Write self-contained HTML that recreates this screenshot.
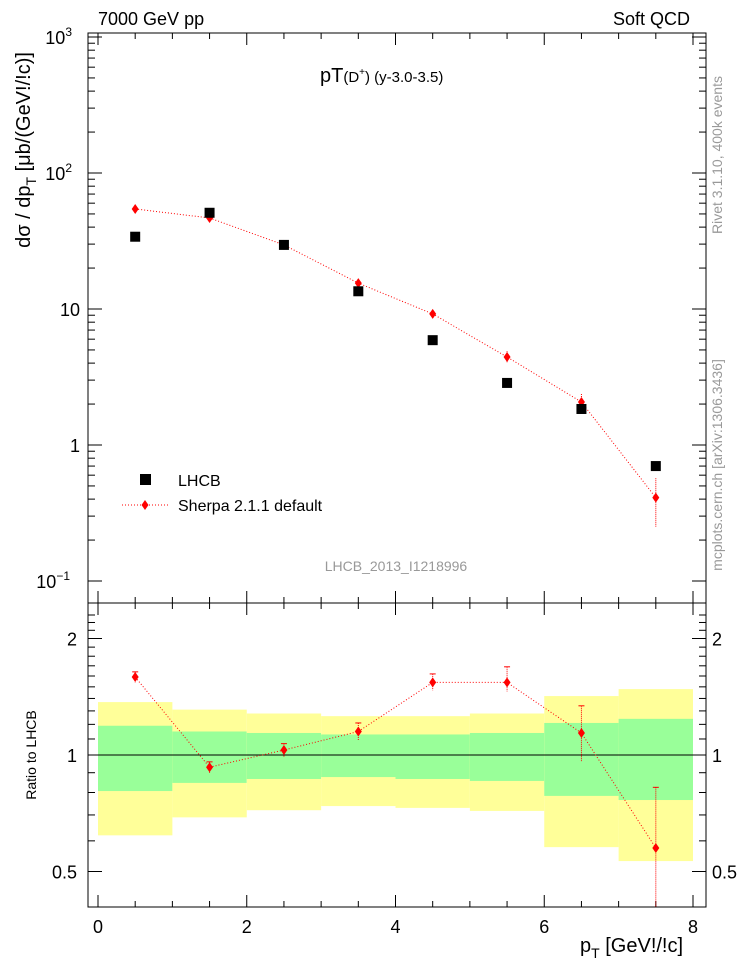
<!DOCTYPE html>
<html><head><meta charset="utf-8"><style>
body{margin:0;background:#fff;}
svg{display:block;font-family:"Liberation Sans",sans-serif;}
</style></head><body>
<svg id="c" width="746" height="972" xmlns="http://www.w3.org/2000/svg"></svg>
<script>
const binCenters=[0.5,1.5,2.5,3.5,4.5,5.5,6.5,7.5];
const binEdges=[0,1,2,3,4,5,6,7,8];
const lhcbVals=[34,51,29.6,13.5,5.9,2.86,1.84,0.70];
const sherpaVals=[54.4,46.7,29.6,15.5,9.2,4.44,2.07,0.41];
const sherpaErrLo=[2,2,1,0.6,0.4,0.4,0.25,0.16];
const sherpaErrHi=[2,2,1,0.6,0.4,0.45,0.3,0.16];
const ratioVals=[1.59,0.93,1.03,1.15,1.54,1.54,1.14,0.575];
const ratioErrLo=[0.05,0.03,0.04,0.06,0.07,0.08,0.18,0.25];
const ratioErrHi=[0.05,0.03,0.04,0.06,0.08,0.15,0.2,0.25];
const yellowHi=[1.37,1.31,1.28,1.26,1.26,1.28,1.42,1.48];
const yellowLo=[0.62,0.69,0.72,0.738,0.73,0.717,0.578,0.532];
const greenHi=[1.19,1.15,1.14,1.13,1.13,1.14,1.21,1.24];
const greenLo=[0.807,0.847,0.867,0.877,0.867,0.857,0.784,0.765];
const xTicks=[0,2,4,6,8];

const NS="http://www.w3.org/2000/svg";
const svg=document.getElementById('c');
const L=88,R=706,T=33,M=603,B=907;
const X=v=>98+(693-98)*v/8;
const Y=v=>445-136*Math.log10(v);
const YR=v=>755-387*Math.log10(v);
function el(tag,a,parent){const e=document.createElementNS(NS,tag);for(const k in a)e.setAttribute(k,a[k]);(parent||svg).appendChild(e);return e;}
function txt(x,y,s,size,anchor,name,extra){const t=el('text',Object.assign({x:x,y:y,'font-size':size,'text-anchor':anchor||'start'},extra||{}));t.textContent=s;return t;}

// ratio bands
for(let i=0;i<8;i++){
 let r=el('rect',{x:X(binEdges[i]),y:YR(yellowHi[i]),width:X(binEdges[i+1])-X(binEdges[i]),height:YR(yellowLo[i])-YR(yellowHi[i]),fill:'#ffff99'});
 
 
 let g=el('rect',{x:X(binEdges[i]),y:YR(greenHi[i]),width:X(binEdges[i+1])-X(binEdges[i]),height:YR(greenLo[i])-YR(greenHi[i]),fill:'#99ff99'});
 
 
}
el('line',{x1:L,x2:R,y1:YR(1),y2:YR(1),stroke:'#000','stroke-width':1});

// frames
let f1=el('rect',{x:L,y:T,width:R-L,height:M-T,fill:'none',stroke:'#000','stroke-width':1});

let f2=el('rect',{x:L,y:M,width:R-L,height:B-M,fill:'none',stroke:'#000','stroke-width':1});


// x ticks
for(let v=0;v<=8.01;v+=0.5){
 const maj=Math.abs(v-Math.round(v/2)*2)<1e-6;
 const len=maj?12:6;
 el('line',{x1:X(v),x2:X(v),y1:T,y2:T+len,stroke:'#000'});
 el('line',{x1:X(v),x2:X(v),y1:M,y2:M-len,stroke:'#000'});
 el('line',{x1:X(v),x2:X(v),y1:M,y2:M+len,stroke:'#000'});
 el('line',{x1:X(v),x2:X(v),y1:B,y2:B-len,stroke:'#000'});
}
xTicks.forEach(v=>txt(X(v),933,String(v),18,'middle','x-tick-label'));
// main y ticks
for(let d=-1;d<=3;d++){
 el('line',{x1:L,x2:L+14,y1:Y(Math.pow(10,d)),y2:Y(Math.pow(10,d)),stroke:'#000'});
 el('line',{x1:R,x2:R-14,y1:Y(Math.pow(10,d)),y2:Y(Math.pow(10,d)),stroke:'#000'});
 if(d<3)for(let m=2;m<=9;m++){const y=Y(m*Math.pow(10,d));
  el('line',{x1:L,x2:L+7,y1:y,y2:y,stroke:'#000'});el('line',{x1:R,x2:R-7,y1:y,y2:y,stroke:'#000'});}
}
const yl=[['10',-1,'−1'],['1',0,''],['10',1,''],['10',2,'2'],['10',3,'3']];
yl.forEach(a=>{const t=txt(80,Y(Math.pow(10,a[1]))+7,a[0],18,'end','y-tick-label');
 if(a[2]){t.setAttribute('x',a[2].length>1?70:72);const s=el('tspan',{'font-size':12,dy:-8},t);s.textContent=a[2];}});
// ratio y ticks
for(let v=0.4;v<=2.31;v+=0.1){const y=YR(v);if(y<M||y>B)continue;
 const maj=[0.5,1,2].some(m=>Math.abs(m-v)<1e-6);
 el('line',{x1:L,x2:L+(maj?14:7),y1:y,y2:y,stroke:'#000'});
 el('line',{x1:R,x2:R-(maj?14:7),y1:y,y2:y,stroke:'#000'});}
[[2,'2'],[1,'1'],[0.5,'0.5']].forEach(a=>{txt(77,YR(a[0])+7,a[1],18,'end','ratio-y-tick-label');txt(712,YR(a[0])+7,a[1],18,'start','ratio-y-tick-label-right');});

// sherpa main
let pts=binCenters.map((c,i)=>X(c)+','+Y(sherpaVals[i])).join(' ');
let pl=el('polyline',{points:pts,fill:'none',stroke:'#f00','stroke-dasharray':'1,2'});

binCenters.forEach((c,i)=>{
 el('line',{x1:X(c),x2:X(c),y1:Y(sherpaVals[i]+sherpaErrHi[i]),y2:Y(Math.max(sherpaVals[i]-sherpaErrLo[i],0.01)),stroke:'#f00','stroke-dasharray':'1,1'});
 const x=X(c),y=Y(sherpaVals[i]);
 let d=el('polygon',{points:`${x},${y-5} ${x+3.5},${y} ${x},${y+5} ${x-3.5},${y}`,fill:'#f00'});
 
});
// lhcb
binCenters.forEach((c,i)=>{
 let s=el('rect',{x:X(c)-5,y:Y(lhcbVals[i])-5,width:10,height:10,fill:'#000'});
 
});
// ratio sherpa
pts=binCenters.map((c,i)=>X(c)+','+YR(ratioVals[i])).join(' ');
pl=el('polyline',{points:pts,fill:'none',stroke:'#f00','stroke-dasharray':'1,2'});

binCenters.forEach((c,i)=>{
 const y2=Math.min(YR(ratioVals[i]-ratioErrLo[i]),B);
 el('line',{x1:X(c),x2:X(c),y1:YR(ratioVals[i]+ratioErrHi[i]),y2:y2,stroke:'#f00','stroke-dasharray':'1,1'});
 el('line',{x1:X(c)-3,x2:X(c)+3,y1:YR(ratioVals[i]+ratioErrHi[i]),y2:YR(ratioVals[i]+ratioErrHi[i]),stroke:'#f00'});
 const x=X(c),y=YR(ratioVals[i]);
 let d=el('polygon',{points:`${x},${y-5} ${x+3.5},${y} ${x},${y+5} ${x-3.5},${y}`,fill:'#f00'});
 
});

// legend
let ls=el('rect',{x:140,y:474,width:11,height:11,fill:'#000'});

txt(178,486,'LHCB',16,'start','legend-lhcb');
el('line',{x1:122,x2:168,y1:505,y2:505,stroke:'#f00','stroke-dasharray':'1,2'});
el('polygon',{points:'145,500 148.5,505 145,510 141.5,505',fill:'#f00'});
txt(178,511,'Sherpa 2.1.1 default',16,'start','legend-sherpa');

// texts
txt(98,25,'7000 GeV pp',18,'start','header-left');
txt(690,25,'Soft QCD',18,'end','header-right');
const tt=txt(320,82,'pT',20,'start','plot-title');
const t2=el('tspan',{'font-size':15},tt);t2.textContent='(D';
const t3=el('tspan',{'font-size':10,dy:-7},tt);t3.textContent='+';
const t4=el('tspan',{'font-size':15,dy:7},tt);t4.textContent=') (y-3.0-3.5)';
txt(396,571,'LHCB_2013_I1218996',14,'middle','analysis-id',{fill:'#999'});
const yt=txt(0,0,'dσ / dp',20,'middle','y-axis-title',{transform:'translate(30,150) rotate(-90)'});
const ys=el('tspan',{'font-size':14,dy:6},yt);ys.textContent='T';
const ys2=el('tspan',{dy:-6},yt);ys2.textContent=' [μb/(GeV!/!c)]';
txt(0,0,'Ratio to LHCB',14,'middle','ratio-y-axis-title',{transform:'translate(36,755) rotate(-90)'});
const xt=txt(580,952,'p',20,'start','x-axis-title');
const xs=el('tspan',{'font-size':14,dy:6},xt);xs.textContent='T';
const xs2=el('tspan',{dy:-6},xt);xs2.textContent=' [GeV!/!c]';
txt(0,0,'Rivet 3.1.10,  400k events',14,'middle','rivet-label',{transform:'translate(722,155) rotate(-90)',fill:'#999'});
txt(0,0,'mcplots.cern.ch [arXiv:1306.3436]',14,'middle','mcplots-label',{transform:'translate(722,465) rotate(-90)',fill:'#999'});
</script>
</body></html>
